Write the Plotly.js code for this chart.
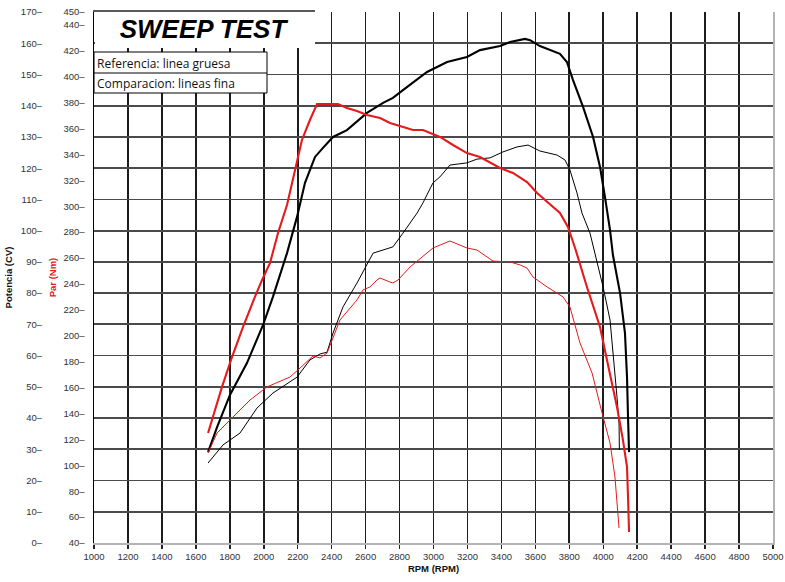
<!DOCTYPE html>
<html>
<head>
<meta charset="utf-8">
<script src="https://cdn.plot.ly/plotly-3.0.1.min.js"></script>
<style>html,body{margin:0;padding:0;background:#fff}#chart{width:785px;height:582px}</style>
</head>
<body>
<div id="chart"></div>
<script>
// ---- tick labels ----
const rpmTicks = [1000,1200,1400,1600,1800,2000,2200,2400,2600,2800,3000,3200,3400,3600,3800,4000,4200,4400,4600,4800,5000];
const cvTicks = [0,10,20,30,40,50,60,70,80,90,100,110,120,130,140,150,160,170];
const parTicks = [40,60,80,100,120,140,160,180,200,220,240,260,280,300,320,340,360,380,400,420,440,450];
const rpmGrid = [1200,1400,1600,1800,2000,2200,2400,2600,2800,3000,3200,3400,3600,3800,4000,4200,4400,4600,4800];
const cvGrid = [10,20,30,40,50,60,70,80,90,100,110,120,130,140,150,160];

// ---- Referencia (linea gruesa) ----
const refPowerRpm = [1672,1725,1801,1901,1996,2054,2137,2196,2243,2302,2349,2408,2490,2608,2703,2761,2820,2879,2962,3080,3197,3274,3392,3451,3539,3569,3627,3745,3786,3822,3881,3940,3981,4010,4040,4057,4099,4128,4140,4146,4152];
const refPowerCV = [29.1,37.1,47.4,57.6,69.8,78.8,92.8,104.4,115.3,123.6,126.5,130.0,132.2,137.7,140.9,142.5,145.0,147.3,150.8,154.0,155.6,157.8,159.1,160.4,161.4,161.0,159.1,156.6,154.0,148.2,139.6,130.0,120.4,110.8,100.2,92.2,80.0,67.2,53.1,40.3,29.1];

const refTorqueRpm = [1672,1713,1754,1813,1878,1948,1990,2037,2084,2137,2184,2225,2272,2314,2378,2437,2490,2549,2608,2685,2744,2803,2879,2938,3038,3115,3197,3274,3392,3468,3551,3610,3669,3745,3792,3834,3904,3981,4022,4081,4116,4140,4146,4152];
const refTorqueNm = [124.9,142.7,160.5,183.6,206.8,230,243.1,256.2,279.4,301,328,351.2,366.6,379,379,379,375.9,373.6,370.5,368.2,364.3,362,358.9,358.9,353.5,347.3,341.1,338,329.6,325.7,318.7,310.3,303.3,294.8,284,267.8,237.7,206.8,181.3,145,119.5,98.7,75.5,48.5];

// ---- Comparacion (lineas fina) ----
const cmpPowerRpm = [1672,1760,1860,1960,2054,2196,2272,2331,2373,2408,2467,2526,2549,2644,2703,2761,2820,2903,2938,2997,3038,3097,3197,3256,3333,3409,3492,3557,3627,3728,3775,3804,3845,3875,3922,3946,3963,3999,4040,4063,4081,4093,4095];
const cmpPowerCV = [25.6,31.4,35.2,43.2,48.0,53.1,58.6,60.5,61.1,67.2,75.6,81.0,83.2,92.8,93.8,94.8,99.2,105.6,108.9,115.3,117.2,121.0,121.7,122.9,123.3,125.2,126.8,127.4,125.5,124.2,122.6,119.4,112.1,105.6,99.2,93.8,90.6,82.0,71.4,58.6,46.7,38.4,29.8];

const cmpTorqueRpm = [1672,1725,1801,1919,2019,2155,2214,2290,2331,2373,2449,2549,2585,2626,2667,2685,2744,2761,2791,2862,2997,3038,3097,3197,3256,3351,3451,3510,3551,3586,3669,3763,3804,3863,3934,3993,4040,4069,4087,4093];
const cmpTorqueNm = [109.5,124.9,135,150.4,160.5,168.2,175.1,184.4,182.9,186.7,212.2,227.6,235.4,237.7,243.1,244.6,241.5,240.8,243.1,253.1,267.8,270.1,273.2,267.8,266.2,257.7,257,254.7,252.3,245.4,237.7,230,222.2,194.4,171.3,140.4,117.2,91,65.5,51.6];

const legendLines = ['Referencia: linea gruesa', 'Comparacion: lineas fina'];

// ---- geometry helpers (pixels -> paper fractions) ----
const W = 785, H = 582, ML = 0, MR = 12, MT = 12, MB = 39;
const PW = W - ML - MR, PH = H - MT - MB;
const px = x => (x - ML) / PW;
const py = y => (H - MB - y) / PH;

const RED = '#e41a1c', BLACK = '#000000';
const FAM = 'Liberation Sans, Arial, sans-serif';
const tickFont = {family: FAM, size: 9.5, color: '#333'};

const traces = [
  {x: cmpTorqueRpm, y: cmpTorqueNm, yaxis: 'y2', type: 'scatter', mode: 'lines', name: 'Par comparacion',
   line: {color: RED, width: 1}},
  {x: cmpPowerRpm, y: cmpPowerCV, yaxis: 'y', type: 'scatter', mode: 'lines', name: 'Potencia comparacion',
   line: {color: BLACK, width: 1}},
  {x: refTorqueRpm, y: refTorqueNm, yaxis: 'y2', type: 'scatter', mode: 'lines', name: 'Par referencia',
   line: {color: RED, width: 2.1}},
  {x: refPowerRpm, y: refPowerCV, yaxis: 'y', type: 'scatter', mode: 'lines', name: 'Potencia referencia',
   line: {color: BLACK, width: 2.1}},
  {x: [], y: [], xaxis: 'x2', yaxis: 'y3', type: 'scatter', mode: 'lines', showlegend: false, hoverinfo: 'skip'}
];

const layout = {
  width: W, height: H,
  margin: {l: ML, r: MR, t: MT, b: MB, pad: 0},
  paper_bgcolor: '#fff', plot_bgcolor: '#fff',
  showlegend: false,
  font: {family: FAM, color: '#333'},
  title: {
    text: '<b><i>SWEEP TEST</i></b>',
    font: {family: FAM, size: 26, color: '#000'},
    xref: 'container', yref: 'container',
    x: 203 / W, xanchor: 'center',
    y: 1 - 29 / H, yanchor: 'middle'
  },
  xaxis: {
    domain: [px(94), 1],
    range: [1000, 5000],
    tickmode: 'array', tickvals: rpmTicks, ticktext: rpmTicks.map(String),
    showgrid: false, zeroline: false,
    showline: true, linecolor: '#b4b4b4', linewidth: 2,
    ticks: 'outside', ticklen: 4, tickcolor: '#222', tickwidth: 1.5,
    tickfont: tickFont,
    title: {text: '<b>RPM (RPM)</b>', font: {family: FAM, size: 9.5, color: '#111'}, standoff: 4}
  },
  xaxis2: {
    overlaying: 'x', anchor: 'y3', side: 'bottom',
    range: [1000, 5000],
    tickmode: 'array', tickvals: rpmGrid,
    showticklabels: false, ticks: '',
    showgrid: true, gridcolor: '#1c1c1c', gridwidth: 1.6,
    zeroline: false, showline: false
  },
  yaxis: {
    anchor: 'free', position: px(42), side: 'left',
    range: [0, 170],
    tickmode: 'array', tickvals: cvTicks, ticktext: cvTicks.map(v => v + '–'),
    showgrid: false, zeroline: false, showline: false, ticks: '',
    tickfont: tickFont,
    title: {text: '<b>Potencia (CV)</b>', font: {family: FAM, size: 9.5, color: '#111'}, standoff: 5}
  },
  yaxis2: {
    overlaying: 'y', anchor: 'x', side: 'left',
    range: [40, 450],
    tickmode: 'array', tickvals: parTicks, ticktext: parTicks.map(v => v + '–'),
    showgrid: false, zeroline: false,
    showline: true, linecolor: '#000', linewidth: 1.5,
    ticks: '', ticklabelstandoff: 6,
    tickfont: tickFont,
    title: {text: '<b>Par (Nm)</b>', font: {family: FAM, size: 9.5, color: RED}, standoff: 5}
  },
  yaxis3: {
    overlaying: 'y', anchor: 'x2', side: 'right',
    range: [0, 170],
    tickmode: 'array', tickvals: cvGrid,
    showticklabels: false, ticks: '',
    showgrid: true, gridcolor: '#4a4a4a', gridwidth: 1.8,
    zeroline: false,
    showline: true, linecolor: '#b4b4b4', linewidth: 2
  },
  shapes: [
    {type: 'rect', xref: 'paper', yref: 'paper', x0: px(95), x1: px(315), y0: py(48), y1: py(11),
     fillcolor: '#fff', line: {width: 0}, layer: 'above'},
    {type: 'line', xref: 'paper', yref: 'paper', x0: px(93), x1: px(315), y0: py(11), y1: py(11),
     line: {color: '#222', width: 1.5}, layer: 'above'},
    {type: 'rect', xref: 'paper', yref: 'paper', x0: px(94), x1: px(267), y0: py(93), y1: py(52),
     fillcolor: '#fff', line: {color: '#000', width: 1}, layer: 'above'},
    {type: 'line', xref: 'paper', yref: 'paper', x0: px(94), x1: px(267), y0: py(73), y1: py(73),
     line: {color: '#000', width: 1}, layer: 'above'}
  ],
  annotations: [
    {text: legendLines[0], xref: 'paper', yref: 'paper', x: px(95), y: py(63), xanchor: 'left', yanchor: 'middle',
     showarrow: false, font: {family: 'Open Sans, Noto Sans, sans-serif', size: 12, color: '#111'}},
    {text: legendLines[1], xref: 'paper', yref: 'paper', x: px(95), y: py(84), xanchor: 'left', yanchor: 'middle',
     showarrow: false, font: {family: 'Open Sans, Noto Sans, sans-serif', size: 12, color: '#111'}}
  ]
};

Plotly.newPlot('chart', traces, layout, {displayModeBar: false, staticPlot: true});
</script>
</body>
</html>
